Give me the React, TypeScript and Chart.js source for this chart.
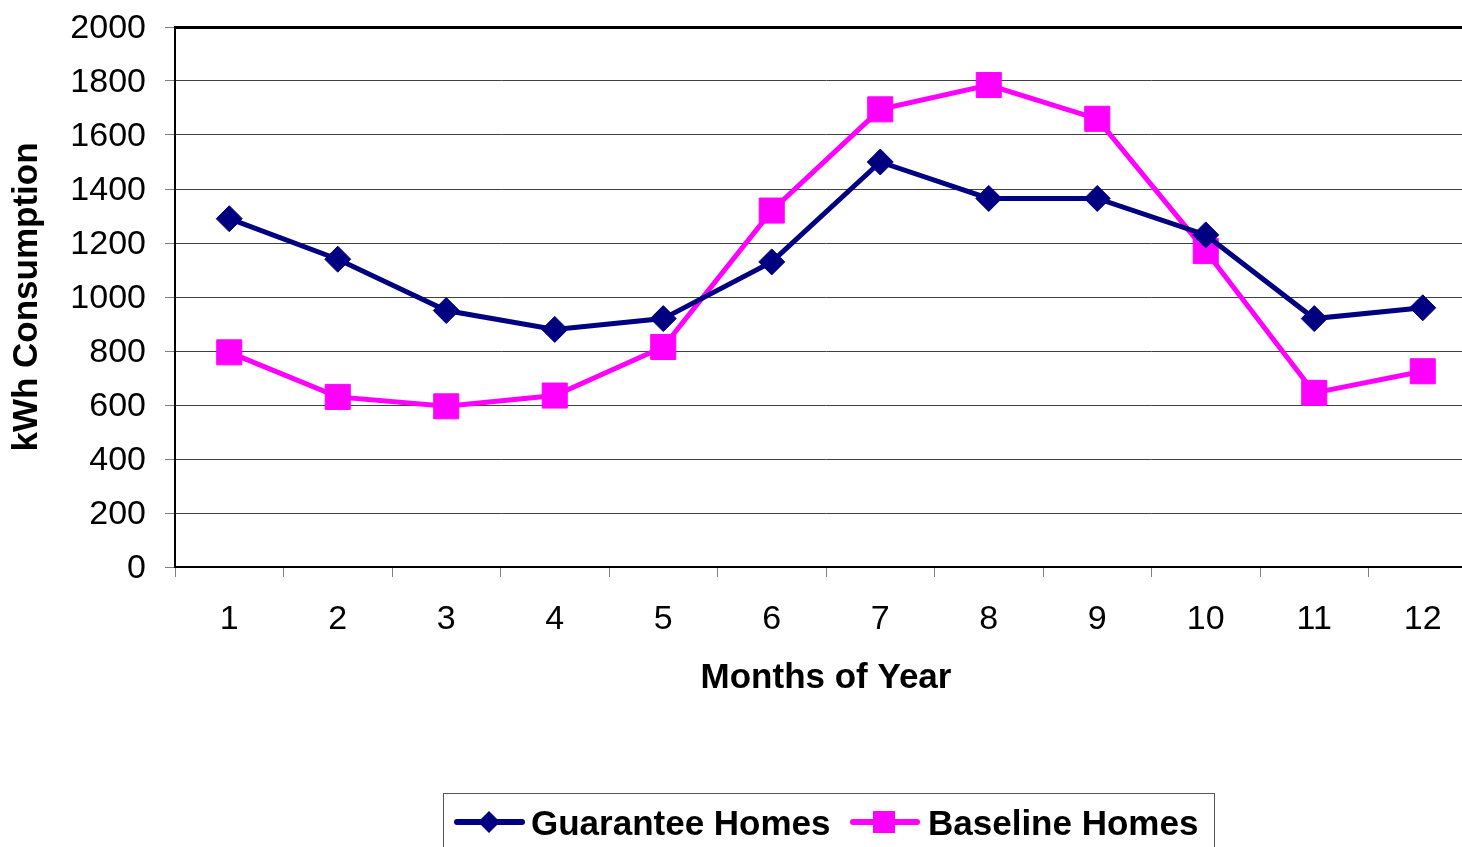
import { useEffect, useRef } from "react";
import { Chart, registerables } from "chart.js";

Chart.register(...registerables);

// Monthly electricity use, kWh
const months = ["1", "2", "3", "4", "5", "6", "7", "8", "9", "10", "11", "12"];
const guaranteeHomes = [1290, 1140, 950, 880, 920, 1130, 1500, 1365, 1365, 1230, 920, 960];
const baselineHomes = [795, 630, 595, 635, 815, 1320, 1695, 1785, 1660, 1170, 645, 725];
const seriesNames = ["Guarantee Homes", "Baseline Homes"];
const seriesColors = ["#000080", "#FF00FF"];
const yMin = 0;
const yMax = 2000;
const yStep = 200;
const yAxisTitle = "kWh Consumption";
const xAxisTitle = "Months of Year";

const FONT = "'Liberation Sans', Arial, Helvetica, sans-serif";
const CANVAS_W = 1477;
const CANVAS_H = 880;

// Boxed legend with a line sample and marker for each series
const boxedLegend = {
  id: "boxedLegend",
  afterDraw(chart: any) {
    const ctx = chart.ctx as CanvasRenderingContext2D;
    ctx.save();
    ctx.strokeStyle = "#555555";
    ctx.lineWidth = 1;
    ctx.strokeRect(443.5, 793.5, 771, 120);

    const items = [
      { lineX0: 457, lineX1: 522, markX: 489, textX: 531 },
      { lineX0: 853, lineX1: 917, markX: 884, textX: 928 },
    ];
    const cy = 822;
    chart.data.datasets.forEach((ds: any, i: number) => {
      const it = items[i];
      ctx.strokeStyle = ds.borderColor;
      ctx.lineWidth = 6;
      ctx.lineCap = "round";
      ctx.beginPath();
      ctx.moveTo(it.lineX0, cy);
      ctx.lineTo(it.lineX1, cy);
      ctx.stroke();

      ctx.fillStyle = ds.borderColor;
      ctx.beginPath();
      if (ds.pointStyle === "rectRot") {
        const r = 11;
        ctx.moveTo(it.markX - r, cy);
        ctx.lineTo(it.markX, cy - r);
        ctx.lineTo(it.markX + r, cy);
        ctx.lineTo(it.markX, cy + r);
        ctx.closePath();
      } else {
        ctx.rect(it.markX - 11, cy - 11, 22, 22);
      }
      ctx.fill();

      ctx.fillStyle = "#000000";
      ctx.font = `bold 35px ${FONT}`;
      ctx.textAlign = "left";
      ctx.textBaseline = "alphabetic";
      ctx.fillText(ds.label, it.textX, 835);
    });
    ctx.restore();
  },
};

export default function App() {
  const canvasRef = useRef<HTMLCanvasElement | null>(null);

  useEffect(() => {
    if (!canvasRef.current) return;
    const chart = new Chart(canvasRef.current, {
      type: "line",
      data: {
        labels: months,
        datasets: [
          {
            label: seriesNames[0],
            data: guaranteeHomes,
            borderColor: seriesColors[0],
            backgroundColor: seriesColors[0],
            borderWidth: 5,
            pointStyle: "rectRot",
            pointRadius: 13,
            pointBorderWidth: 1,
            pointBackgroundColor: seriesColors[0],
            pointBorderColor: seriesColors[0],
            tension: 0,
          },
          {
            label: seriesNames[1],
            data: baselineHomes,
            borderColor: seriesColors[1],
            backgroundColor: seriesColors[1],
            borderWidth: 5,
            pointStyle: "rect",
            pointRadius: 17.7,
            pointBorderWidth: 1,
            pointBackgroundColor: seriesColors[1],
            pointBorderColor: seriesColors[1],
            tension: 0,
          },
        ],
      },
      options: {
        responsive: false,
        animation: false,
        devicePixelRatio: 1,
        layout: {
          autoPadding: false,
          padding: { left: 0, top: 27, right: 0, bottom: CANVAS_H - 707 },
        },
        plugins: {
          legend: { display: false },
          tooltip: { enabled: false },
        },
        scales: {
          x: {
            type: "category",
            offset: true,
            grid: {
              display: true,
              offset: true,
              drawOnChartArea: false,
              drawTicks: true,
              tickLength: 10,
              tickColor: "#808080",
              tickWidth: 1,
            },
            border: { display: true, color: "#000000", width: 2 },
            ticks: {
              color: "#000000",
              padding: 26,
              maxRotation: 0,
              autoSkip: false,
              font: { family: FONT, size: 34, lineHeight: 1 },
            },
            title: {
              display: true,
              text: xAxisTitle,
              color: "#000000",
              padding: { top: 0, bottom: 11 },
              font: { family: FONT, size: 35, weight: "bold", lineHeight: 1 },
            },
            afterFit(scale: any) {
              scale.height = 140;
              scale.paddingLeft = 0;
              scale.paddingRight = 0;
            },
          },
          y: {
            min: yMin,
            max: yMax,
            ticks: {
              stepSize: yStep,
              color: "#000000",
              padding: 19,
              labelOffset: 2,
              font: { family: FONT, size: 34, lineHeight: 1 },
              callback: (v: any) => String(v),
            },
            grid: {
              color: (c: any) => (c.tick && c.tick.value === yMax ? "#000000" : "#404040"),
              lineWidth: (c: any) => (c.tick && c.tick.value === yMax ? 3 : 1),
              drawTicks: true,
              tickLength: 10,
              tickColor: "#808080",
              tickWidth: 1,
            },
            border: { display: true, color: "#000000", width: 2 },
            title: {
              display: true,
              text: yAxisTitle,
              color: "#000000",
              padding: { top: 10, bottom: 0 },
              font: { family: FONT, size: 35, weight: "bold", lineHeight: 1 },
            },
            afterFit(scale: any) {
              scale.width = 175;
              scale.paddingTop = 0;
              scale.paddingBottom = 0;
            },
          },
        },
      },
      plugins: [boxedLegend],
    });
    return () => chart.destroy();
  }, []);

  return (
    <div
      style={{
        position: "fixed",
        left: 0,
        top: 0,
        width: 1462,
        height: 847,
        overflow: "hidden",
        background: "#ffffff",
      }}
    >
      <canvas
        ref={canvasRef}
        width={CANVAS_W}
        height={CANVAS_H}
        style={{ display: "block", width: CANVAS_W, height: CANVAS_H }}
      />
    </div>
  );
}
